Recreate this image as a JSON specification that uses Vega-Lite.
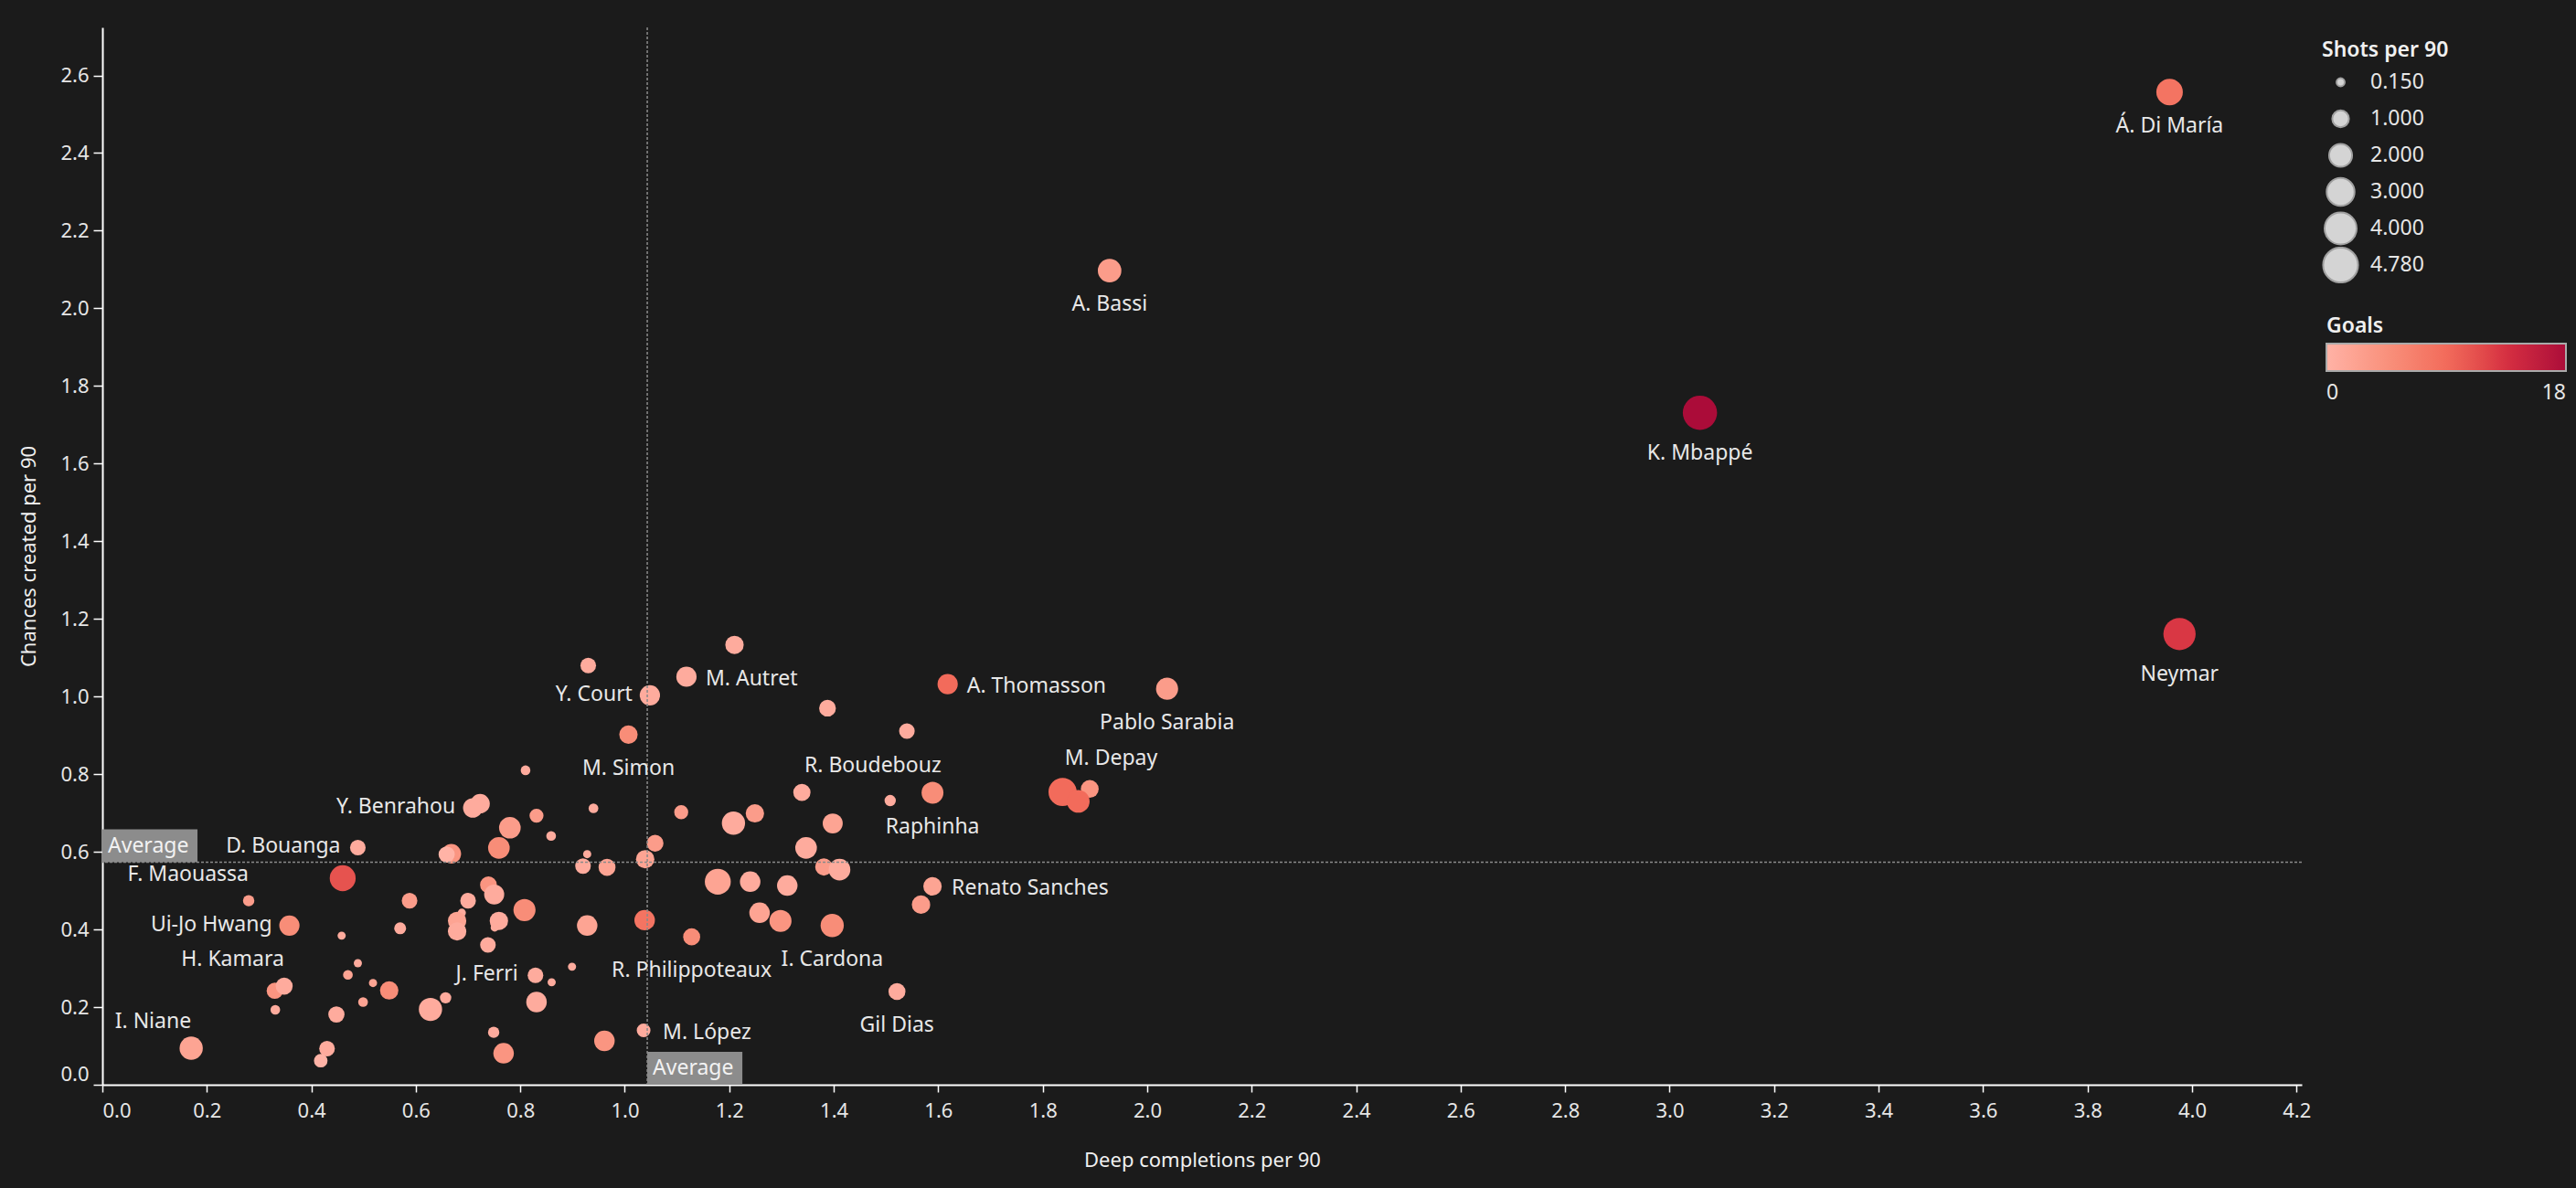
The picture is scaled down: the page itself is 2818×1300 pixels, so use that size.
{
  "$schema": "https://vega.github.io/schema/vega-lite/v6.json",
  "width": 2406,
  "height": 1157,
  "autosize": {"type": "none"},
  "padding": {"left": 112, "top": 30, "right": 300, "bottom": 113},
  "background": "#1b1b1b",
  "config": {
    "view": {"stroke": null},
    "font": "Noto Sans",
    "axis": {
      "grid": false,
      "domainColor": "#ffffff",
      "domainWidth": 2,
      "tickColor": "#ffffff",
      "tickWidth": 1.5,
      "labelColor": "#e6e6e6",
      "labelFontSize": 22,
      "labelFont": "Noto Sans",
      "titleColor": "#f0f0f0",
      "titleFontSize": 22,
      "titleFont": "Noto Sans",
      "titleFontWeight": "normal"
    },
    "legend": {
      "labelColor": "#e6e6e6",
      "labelFontSize": 23,
      "labelFont": "Noto Sans",
      "titleColor": "#f0f0f0",
      "titleFontSize": 23,
      "titleFont": "Noto Sans",
      "titleFontWeight": 600
    }
  },
  "datasets": {
    "avg": [{"avg_x": 1.043, "avg_y": 0.573}],
    "players": [
      {"deep": 0.723, "chances": 0.724, "shots": 1.40, "goals": 1},
      {"deep": 0.810, "chances": 0.810, "shots": 0.26, "goals": 1},
      {"deep": 0.831, "chances": 0.693, "shots": 0.67, "goals": 3},
      {"deep": 0.940, "chances": 0.712, "shots": 0.26, "goals": 1},
      {"deep": 0.780, "chances": 0.662, "shots": 1.76, "goals": 3},
      {"deep": 0.859, "chances": 0.641, "shots": 0.26, "goals": 1},
      {"deep": 0.759, "chances": 0.610, "shots": 1.76, "goals": 5},
      {"deep": 0.668, "chances": 0.595, "shots": 1.40, "goals": 4},
      {"deep": 0.659, "chances": 0.593, "shots": 0.94, "goals": 0},
      {"deep": 0.460, "chances": 0.532, "shots": 2.58, "goals": 11},
      {"deep": 0.928, "chances": 0.594, "shots": 0.15, "goals": 1},
      {"deep": 0.920, "chances": 0.563, "shots": 0.86, "goals": 1},
      {"deep": 0.966, "chances": 0.560, "shots": 1.04, "goals": 2},
      {"deep": 0.588, "chances": 0.474, "shots": 0.86, "goals": 3},
      {"deep": 0.700, "chances": 0.474, "shots": 0.86, "goals": 1},
      {"deep": 0.739, "chances": 0.515, "shots": 1.01, "goals": 4},
      {"deep": 0.750, "chances": 0.490, "shots": 1.49, "goals": 1},
      {"deep": 0.808, "chances": 0.450, "shots": 1.84, "goals": 5},
      {"deep": 0.458, "chances": 0.384, "shots": 0.15, "goals": 1},
      {"deep": 0.570, "chances": 0.403, "shots": 0.45, "goals": 1},
      {"deep": 0.688, "chances": 0.443, "shots": 0.15, "goals": 1},
      {"deep": 0.679, "chances": 0.422, "shots": 1.24, "goals": 2},
      {"deep": 0.679, "chances": 0.395, "shots": 1.24, "goals": 1},
      {"deep": 0.759, "chances": 0.422, "shots": 1.24, "goals": 1},
      {"deep": 0.751, "chances": 0.405, "shots": 0.15, "goals": 1},
      {"deep": 0.738, "chances": 0.360, "shots": 0.86, "goals": 1},
      {"deep": 0.928, "chances": 0.410, "shots": 1.57, "goals": 2},
      {"deep": 1.038, "chances": 0.424, "shots": 1.57, "goals": 8},
      {"deep": 0.489, "chances": 0.313, "shots": 0.15, "goals": 1},
      {"deep": 0.470, "chances": 0.283, "shots": 0.26, "goals": 2},
      {"deep": 0.518, "chances": 0.262, "shots": 0.15, "goals": 2},
      {"deep": 0.549, "chances": 0.243, "shots": 1.24, "goals": 5},
      {"deep": 0.330, "chances": 0.242, "shots": 0.94, "goals": 4},
      {"deep": 0.331, "chances": 0.193, "shots": 0.26, "goals": 1},
      {"deep": 0.499, "chances": 0.213, "shots": 0.26, "goals": 2},
      {"deep": 0.448, "chances": 0.181, "shots": 0.94, "goals": 1},
      {"deep": 0.628, "chances": 0.194, "shots": 2.05, "goals": 1},
      {"deep": 0.657, "chances": 0.224, "shots": 0.40, "goals": 1},
      {"deep": 0.831, "chances": 0.213, "shots": 1.57, "goals": 1},
      {"deep": 0.899, "chances": 0.304, "shots": 0.15, "goals": 1},
      {"deep": 0.860, "chances": 0.264, "shots": 0.15, "goals": 1},
      {"deep": 0.749, "chances": 0.135, "shots": 0.40, "goals": 1},
      {"deep": 0.768, "chances": 0.081, "shots": 1.57, "goals": 4},
      {"deep": 0.961, "chances": 0.113, "shots": 1.57, "goals": 4},
      {"deep": 0.430, "chances": 0.093, "shots": 0.86, "goals": 1},
      {"deep": 0.418, "chances": 0.062, "shots": 0.62, "goals": 0},
      {"deep": 0.930, "chances": 1.080, "shots": 0.86, "goals": 1},
      {"deep": 1.210, "chances": 1.133, "shots": 1.24, "goals": 1},
      {"deep": 1.388, "chances": 0.970, "shots": 1.01, "goals": 1},
      {"deep": 1.540, "chances": 0.911, "shots": 0.86, "goals": 1},
      {"deep": 1.108, "chances": 0.702, "shots": 0.67, "goals": 3},
      {"deep": 1.208, "chances": 0.674, "shots": 2.05, "goals": 1},
      {"deep": 1.249, "chances": 0.699, "shots": 1.24, "goals": 3},
      {"deep": 1.339, "chances": 0.753, "shots": 1.08, "goals": 1},
      {"deep": 1.398, "chances": 0.673, "shots": 1.49, "goals": 2},
      {"deep": 1.347, "chances": 0.610, "shots": 1.76, "goals": 1},
      {"deep": 1.058, "chances": 0.622, "shots": 1.01, "goals": 3},
      {"deep": 1.039, "chances": 0.581, "shots": 1.24, "goals": 2},
      {"deep": 1.178, "chances": 0.523, "shots": 2.58, "goals": 2},
      {"deep": 1.240, "chances": 0.523, "shots": 1.57, "goals": 1},
      {"deep": 1.311, "chances": 0.513, "shots": 1.57, "goals": 1},
      {"deep": 1.381, "chances": 0.561, "shots": 1.08, "goals": 3},
      {"deep": 1.411, "chances": 0.554, "shots": 1.76, "goals": 1},
      {"deep": 1.567, "chances": 0.464, "shots": 1.24, "goals": 3},
      {"deep": 1.258, "chances": 0.443, "shots": 1.57, "goals": 2},
      {"deep": 1.298, "chances": 0.422, "shots": 1.84, "goals": 4},
      {"deep": 1.890, "chances": 0.762, "shots": 1.16, "goals": 4},
      {"name": "M. Depay", "deep": 1.838, "chances": 0.754, "shots": 3.06, "goals": 9},
      {"deep": 1.868, "chances": 0.730, "shots": 1.95, "goals": 9},
      {"name": "Á. Di María", "deep": 3.957, "chances": 2.557, "shots": 2.70, "goals": 8},
      {"name": "A. Bassi", "deep": 1.928, "chances": 2.097, "shots": 2.10, "goals": 3},
      {"name": "K. Mbappé", "deep": 3.058, "chances": 1.731, "shots": 4.60, "goals": 18},
      {"name": "Neymar", "deep": 3.976, "chances": 1.161, "shots": 4.06, "goals": 13},
      {"name": "Pablo Sarabia", "deep": 2.038, "chances": 1.020, "shots": 1.84, "goals": 3},
      {"name": "A. Thomasson", "deep": 1.618, "chances": 1.032, "shots": 1.53, "goals": 9},
      {"name": "M. Autret", "deep": 1.118, "chances": 1.051, "shots": 1.53, "goals": 1},
      {"name": "Y. Court", "deep": 1.048, "chances": 1.003, "shots": 1.53, "goals": 1},
      {"name": "M. Simon", "deep": 1.007, "chances": 0.902, "shots": 1.24, "goals": 5},
      {"name": "R. Boudebouz", "deep": 1.508, "chances": 0.732, "shots": 0.40, "goals": 1},
      {"name": "Raphinha", "deep": 1.589, "chances": 0.752, "shots": 1.80, "goals": 5},
      {"name": "Renato Sanches", "deep": 1.589, "chances": 0.511, "shots": 1.24, "goals": 2},
      {"name": "Gil Dias", "deep": 1.521, "chances": 0.240, "shots": 1.04, "goals": 1},
      {"name": "I. Cardona", "deep": 1.397, "chances": 0.410, "shots": 2.05, "goals": 5},
      {"name": "R. Philippoteaux", "deep": 1.128, "chances": 0.381, "shots": 1.04, "goals": 5},
      {"name": "M. López", "deep": 1.036, "chances": 0.140, "shots": 0.64, "goals": 1},
      {"name": "J. Ferri", "deep": 0.829, "chances": 0.282, "shots": 0.86, "goals": 1},
      {"name": "Y. Benrahou", "deep": 0.709, "chances": 0.713, "shots": 1.40, "goals": 1},
      {"name": "D. Bouanga", "deep": 0.489, "chances": 0.611, "shots": 0.86, "goals": 1},
      {"name": "Ui-Jo Hwang", "deep": 0.358, "chances": 0.410, "shots": 1.53, "goals": 5},
      {"name": "H. Kamara", "deep": 0.348, "chances": 0.254, "shots": 1.04, "goals": 1},
      {"name": "F. Maouassa", "deep": 0.280, "chances": 0.474, "shots": 0.40, "goals": 3},
      {"name": "I. Niane", "deep": 0.170, "chances": 0.094, "shots": 2.05, "goals": 2}
    ]
  },
  "layer": [
    {
      "data": {"name": "players"},
      "mark": {"type": "circle", "opacity": 1, "strokeWidth": 0},
      "encoding": {
        "x": {
          "field": "deep", "type": "quantitative",
          "scale": {"domain": [0, 4.21], "nice": false, "zero": false},
          "axis": {
            "title": "Deep completions per 90",
            "values": [0, 0.2, 0.4, 0.6, 0.8, 1.0, 1.2, 1.4, 1.6, 1.8, 2.0, 2.2, 2.4, 2.6, 2.8, 3.0, 3.2, 3.4, 3.6, 3.8, 4.0, 4.2],
            "format": ".1f", "tickSize": 8, "labelPadding": 10, "labelFlush": true, "titlePadding": 33
          }
        },
        "y": {
          "field": "chances", "type": "quantitative",
          "scale": {"domain": [0, 2.7236], "nice": false, "zero": false},
          "axis": {
            "title": "Chances created per 90",
            "values": [0, 0.2, 0.4, 0.6, 0.8, 1.0, 1.2, 1.4, 1.6, 1.8, 2.0, 2.2, 2.4, 2.6],
            "format": ".1f", "tickSize": 10, "labelPadding": 5, "labelFlush": true, "titlePadding": 22
          }
        },
        "size": {
          "field": "shots", "type": "quantitative",
          "scale": {"domain": [0.15, 4.78], "range": [80, 1460], "zero": false},
          "legend": {
            "title": "Shots per 90",
            "values": [0.15, 1, 2, 3, 4, 4.78],
            "format": ".3f",
            "orient": "none", "legendX": 2428, "legendY": 14,
            "symbolType": "circle",
            "symbolFillColor": "#d4d4d4", "symbolStrokeColor": "#a0a0a0", "symbolStrokeWidth": 2, "symbolOpacity": 1,
            "clipHeight": 40,
            "labelOffset": 12, "titlePadding": 3, "rowPadding": 0
          }
        },
        "color": {
          "field": "goals", "type": "quantitative",
          "scale": {"domain": [0, 18], "range": ["#ffb3a6", "#f9917c", "#f26b5b", "#d62f41", "#ab0c39"]},
          "legend": {
            "title": "Goals",
            "orient": "none", "legendX": 2433, "legendY": 316,
            "direction": "horizontal", "gradientLength": 262, "gradientThickness": 30,
            "values": [0, 18],
            "gradientStrokeColor": "#aaaaaa", "gradientStrokeWidth": 2,
            "titlePadding": 7, "labelOffset": 13
          }
        }
      }
    },
    {
      "data": {"name": "avg"},
      "mark": {"type": "rule", "color": "#8a8a8a", "strokeWidth": 1.5, "strokeDash": [3, 2]},
      "encoding": {"x": {"field": "avg_x", "type": "quantitative"}}
    },
    {
      "data": {"name": "avg"},
      "mark": {"type": "rule", "color": "#8a8a8a", "strokeWidth": 1.5, "strokeDash": [3, 2]},
      "encoding": {"y": {"field": "avg_y", "type": "quantitative"}}
    },
    {
      "data": {"name": "avg"},
      "mark": {"type": "point", "shape": "M0,-2L5.78,-2L5.78,0L0,0Z", "size": 1296, "filled": true, "color": "#8c8c8c", "opacity": 1, "strokeWidth": 0},
      "encoding": {
        "x": {"datum": 0, "type": "quantitative"},
        "y": {"field": "avg_y", "type": "quantitative"}
      }
    },
    {
      "data": {"name": "avg"},
      "mark": {"type": "point", "shape": "M0,-2L5.78,-2L5.78,0L0,0Z", "size": 1296, "filled": true, "color": "#8c8c8c", "opacity": 1, "strokeWidth": 0},
      "encoding": {
        "x": {"field": "avg_x", "type": "quantitative"},
        "y": {"datum": 0, "type": "quantitative"}
      }
    },
    {
      "data": {"name": "avg"},
      "mark": {"type": "text", "text": "Average", "align": "left", "baseline": "middle", "dx": 6, "dy": -18, "fontSize": 23, "color": "#f2f2f2"},
      "encoding": {
        "x": {"datum": 0, "type": "quantitative"},
        "y": {"field": "avg_y", "type": "quantitative"}
      }
    },
    {
      "data": {"name": "avg"},
      "mark": {"type": "text", "text": "Average", "align": "left", "baseline": "middle", "dx": 6, "dy": -18, "fontSize": 23, "color": "#f2f2f2"},
      "encoding": {
        "x": {"field": "avg_x", "type": "quantitative"},
        "y": {"datum": 0, "type": "quantitative"}
      }
    },
    {
      "data": {"name": "players"},
      "transform": [{"filter": {"field": "name", "oneOf": ["Á. Di María", "A. Bassi", "Pablo Sarabia", "M. Simon", "Raphinha", "Gil Dias", "I. Cardona", "R. Philippoteaux"]}}],
      "mark": {"type": "text", "align": "center", "baseline": "middle", "dy": 37, "fontSize": 23, "color": "#e8e8e8"},
      "encoding": {
        "x": {"field": "deep", "type": "quantitative"},
        "y": {"field": "chances", "type": "quantitative"},
        "text": {"field": "name"}
      }
    },
    {
      "data": {"name": "players"},
      "transform": [{"filter": {"field": "name", "oneOf": ["K. Mbappé", "Neymar"]}}],
      "mark": {"type": "text", "align": "center", "baseline": "middle", "dy": 44, "fontSize": 23, "color": "#e8e8e8"},
      "encoding": {
        "x": {"field": "deep", "type": "quantitative"},
        "y": {"field": "chances", "type": "quantitative"},
        "text": {"field": "name"}
      }
    },
    {
      "data": {"name": "players"},
      "transform": [{"filter": {"field": "name", "oneOf": ["A. Thomasson", "M. Autret", "Renato Sanches", "M. López"]}}],
      "mark": {"type": "text", "align": "left", "baseline": "middle", "dx": 21, "dy": 2, "fontSize": 23, "color": "#e8e8e8"},
      "encoding": {
        "x": {"field": "deep", "type": "quantitative"},
        "y": {"field": "chances", "type": "quantitative"},
        "text": {"field": "name"}
      }
    },
    {
      "data": {"name": "players"},
      "transform": [{"filter": {"field": "name", "oneOf": ["Y. Court", "J. Ferri", "Y. Benrahou", "D. Bouanga", "Ui-Jo Hwang"]}}],
      "mark": {"type": "text", "align": "right", "baseline": "middle", "dx": -19, "dy": -1, "fontSize": 23, "color": "#e8e8e8"},
      "encoding": {
        "x": {"field": "deep", "type": "quantitative"},
        "y": {"field": "chances", "type": "quantitative"},
        "text": {"field": "name"}
      }
    },
    {
      "data": {"name": "players"},
      "transform": [{"filter": {"field": "name", "oneOf": ["I. Niane", "F. Maouassa", "H. Kamara"]}}],
      "mark": {"type": "text", "align": "right", "baseline": "middle", "dx": 0, "dy": -29, "fontSize": 23, "color": "#e8e8e8"},
      "encoding": {
        "x": {"field": "deep", "type": "quantitative"},
        "y": {"field": "chances", "type": "quantitative"},
        "text": {"field": "name"}
      }
    },
    {
      "data": {"name": "players"},
      "transform": [{"filter": {"field": "name", "equal": "R. Boudebouz"}}],
      "mark": {"type": "text", "align": "center", "baseline": "middle", "dx": -19, "dy": -38, "fontSize": 23, "color": "#e8e8e8"},
      "encoding": {
        "x": {"field": "deep", "type": "quantitative"},
        "y": {"field": "chances", "type": "quantitative"},
        "text": {"field": "name"}
      }
    },
    {
      "data": {"name": "players"},
      "transform": [{"filter": {"field": "name", "equal": "M. Depay"}}],
      "mark": {"type": "text", "align": "center", "baseline": "middle", "dx": 53, "dy": -37, "fontSize": 23, "color": "#e8e8e8"},
      "encoding": {
        "x": {"field": "deep", "type": "quantitative"},
        "y": {"field": "chances", "type": "quantitative"},
        "text": {"field": "name"}
      }
    }
  ]
}
